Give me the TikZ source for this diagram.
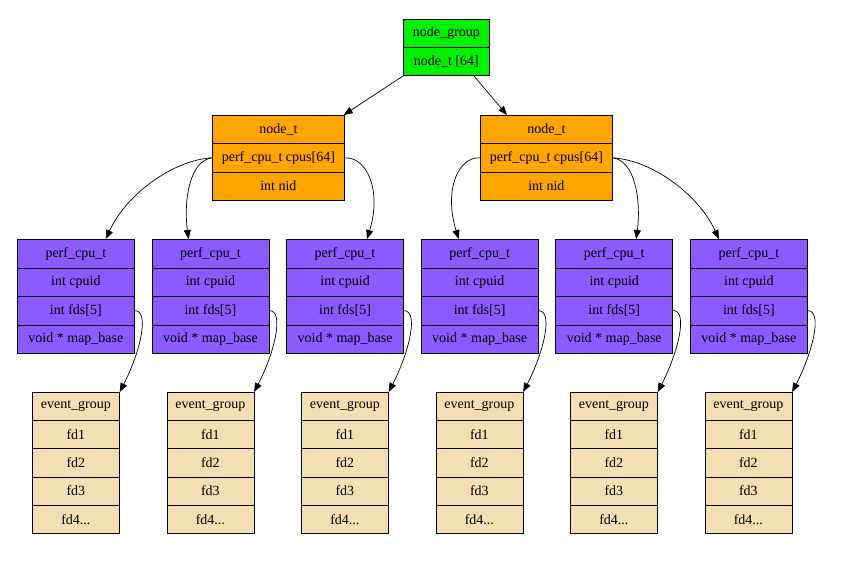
\documentclass[tikz,border=0pt]{standalone}
\usepackage{fontspec}
\setmainfont{Liberation Serif}
\newfontfamily\recfam{Liberation Serif}
\usetikzlibrary{arrows.meta}
\definecolor{ngreen}{RGB}{0,240,0}
\definecolor{norange}{RGB}{255,165,0}
\definecolor{npurple}{RGB}{140,90,255}
\definecolor{nwheat}{RGB}{245,222,179}
\begin{document}
\begin{tikzpicture}[x=1pt,y=-1pt,
  rec/.style={draw=black, line width=0.7pt, inner sep=0pt, anchor=north west,
    minimum height=28.3pt, font=\recfam\fontsize{14}{16}\selectfont},
  grp/.style={rec, fill=ngreen, minimum width=86pt, minimum height=28pt},
  ndt/.style={rec, fill=norange, minimum width=132pt, minimum height=28.3pt},
  cpu/.style={rec, fill=npurple, minimum width=117pt, minimum height=28.5pt},
  evg/.style={rec, fill=nwheat, minimum width=87pt, minimum height=28.2pt},
  edge/.style={-{Triangle[length=9pt,width=7pt]}, line width=0.7pt}]
\useasboundingbox (0,0) rectangle (843,570);

% top record
\node[grp] (ng0) at (403,19) {node\_group};
\node[grp] (ng1) at (403,47) {node\_t [64]};

% node_t records
\foreach \i/\x in {1/212,2/480} {
  \node[ndt] (nt\i-0) at (\x,115) {node\_t};
  \node[ndt] (nt\i-1) at (\x,143.3) {perf\_cpu\_t cpus[64]};
  \node[ndt] (nt\i-2) at (\x,171.6) {int nid};
}

% perf_cpu_t records and event groups
\foreach \i/\x/\e in {1/17/32,2/151.6/166.5,3/286.2/301,4/420.8/435.5,5/555.4/570,6/690/704.5} {
  \node[cpu] (pc\i-0) at (\x,239) {perf\_cpu\_t};
  \node[cpu] (pc\i-1) at (\x,267.5) {int cpuid};
  \node[cpu] (pc\i-2) at (\x,296) {int fds[5]};
  \node[cpu] (pc\i-3) at (\x,324.5) {void * map\_base};
  \node[evg] (eg\i-0) at (\e,392) {event\_group};
  \node[evg] (eg\i-1) at (\e,420.2) {fd1};
  \node[evg] (eg\i-2) at (\e,448.4) {fd2};
  \node[evg] (eg\i-3) at (\e,476.6) {fd3};
  \node[evg] (eg\i-4) at (\e,504.8) {fd4...};
  \draw[edge] (pc\i-2.east) .. controls +(15,0) and +(21,-41) .. (eg\i-0.north east);
}

% node_group -> node_t
\draw[edge] ([xshift=0.5pt]ng1.south west) -- ([xshift=-1pt]nt1-0.north east);
\draw[edge] ([xshift=-16pt]ng1.south east) -- ([xshift=27pt]nt2-0.north west);

% cpus[64] -> perf_cpu_t
\draw[edge] (nt1-1.west) .. controls +(-40,2.5) and +(20,-44) .. ([xshift=30pt]pc1-0.north);
\draw[edge] (nt1-1.west) .. controls +(-22,3) and +(-5,-40) .. ([xshift=-22pt]pc2-0.north);
\draw[edge] (nt1-1.east) .. controls +(22,-1) and +(15,-49) .. ([xshift=22pt]pc3-0.north);
\draw[edge] (nt2-1.west) .. controls +(-22,-1) and +(-15,-49) .. ([xshift=-21pt]pc4-0.north);
\draw[edge] (nt2-1.east) .. controls +(22,3) and +(5,-40) .. ([xshift=22pt]pc5-0.north);
\draw[edge] (nt2-1.east) .. controls +(40,2.5) and +(-20,-44) .. ([xshift=-30pt]pc6-0.north);
\end{tikzpicture}
\end{document}
